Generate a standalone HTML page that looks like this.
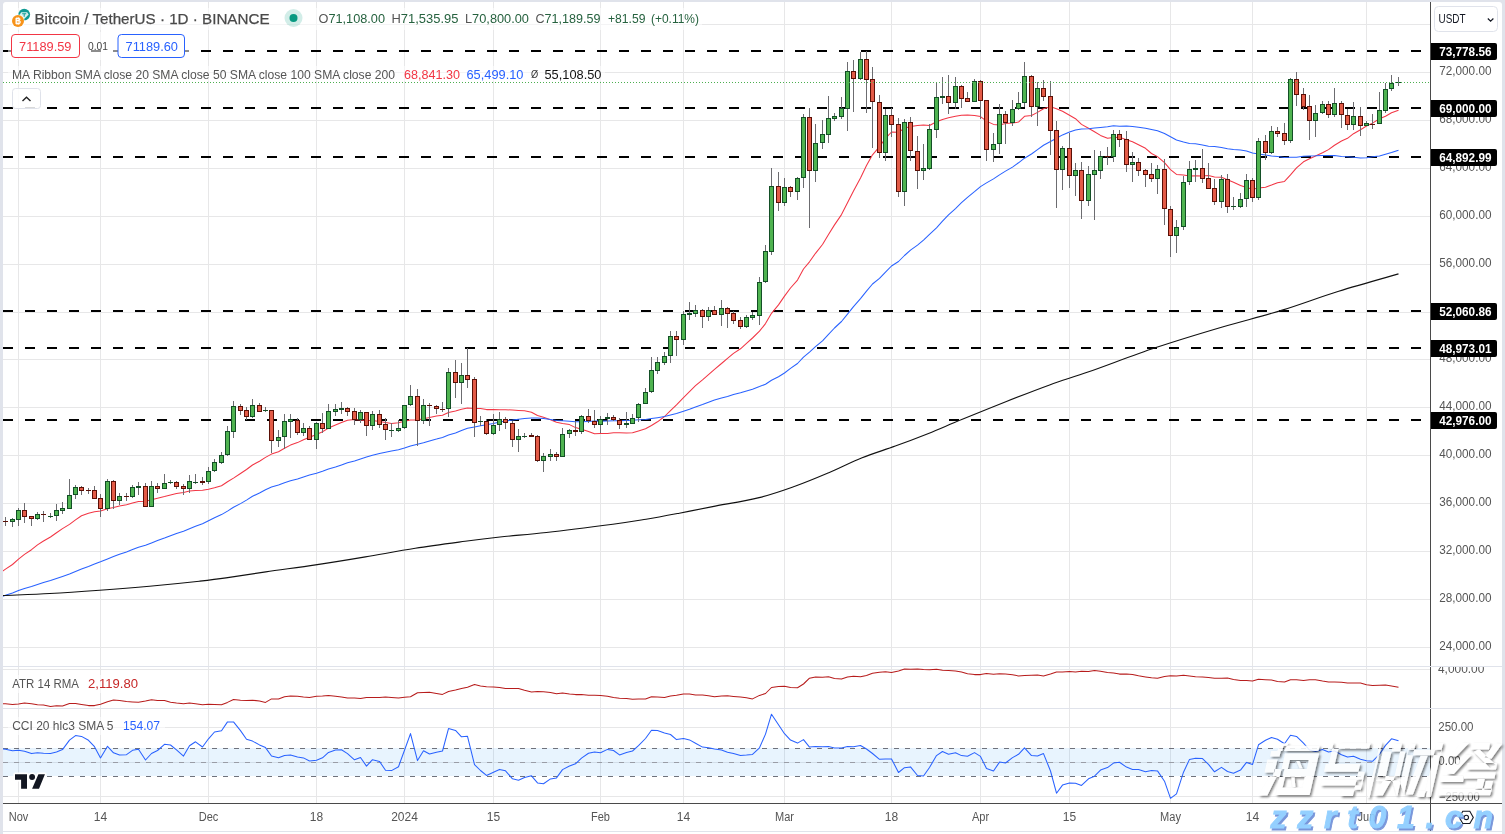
<!DOCTYPE html><html><head><meta charset="utf-8"><style>html,body{margin:0;padding:0;background:#e0e3eb;}body{width:1505px;height:834px;position:relative;overflow:hidden}</style></head><body><svg width="1505" height="834" viewBox="0 0 1505 834" font-family="Liberation Sans, sans-serif" style="position:absolute;left:0;top:0;will-change:transform">
<rect x="0" y="0" width="1505" height="834" fill="#e0e3eb" />
<path d="M3 834 V5 a3 3 0 0 1 3 -3 H1499 a3 3 0 0 1 3 3 V834 z" fill="#ffffff"/>
<g shape-rendering="crispEdges">
<rect x="18" y="2" width="1" height="801" fill="#e7e7e8" />
<rect x="100" y="2" width="1" height="801" fill="#e7e7e8" />
<rect x="208" y="2" width="1" height="801" fill="#e7e7e8" />
<rect x="316" y="2" width="1" height="801" fill="#e7e7e8" />
<rect x="404" y="2" width="1" height="801" fill="#e7e7e8" />
<rect x="493" y="2" width="1" height="801" fill="#e7e7e8" />
<rect x="600" y="2" width="1" height="801" fill="#e7e7e8" />
<rect x="683" y="2" width="1" height="801" fill="#e7e7e8" />
<rect x="784" y="2" width="1" height="801" fill="#e7e7e8" />
<rect x="891" y="2" width="1" height="801" fill="#e7e7e8" />
<rect x="980" y="2" width="1" height="801" fill="#e7e7e8" />
<rect x="1069" y="2" width="1" height="801" fill="#e7e7e8" />
<rect x="1170" y="2" width="1" height="801" fill="#e7e7e8" />
<rect x="1252" y="2" width="1" height="801" fill="#e7e7e8" />
<rect x="1366" y="2" width="1" height="801" fill="#e7e7e8" />
<rect x="3" y="647" width="1427" height="1" fill="#e7e7e8" />
<rect x="3" y="599" width="1427" height="1" fill="#e7e7e8" />
<rect x="3" y="551" width="1427" height="1" fill="#e7e7e8" />
<rect x="3" y="503" width="1427" height="1" fill="#e7e7e8" />
<rect x="3" y="455" width="1427" height="1" fill="#e7e7e8" />
<rect x="3" y="407" width="1427" height="1" fill="#e7e7e8" />
<rect x="3" y="359" width="1427" height="1" fill="#e7e7e8" />
<rect x="3" y="312" width="1427" height="1" fill="#e7e7e8" />
<rect x="3" y="264" width="1427" height="1" fill="#e7e7e8" />
<rect x="3" y="216" width="1427" height="1" fill="#e7e7e8" />
<rect x="3" y="168" width="1427" height="1" fill="#e7e7e8" />
<rect x="3" y="120" width="1427" height="1" fill="#e7e7e8" />
<rect x="3" y="72" width="1427" height="1" fill="#e7e7e8" />
<rect x="3" y="24" width="1427" height="1" fill="#e7e7e8" />
<rect x="3" y="669" width="1427" height="1" fill="#e7e7e8" />
<rect x="3" y="727" width="1427" height="1" fill="#e7e7e8" />
<rect x="3" y="796" width="1427" height="1" fill="#e7e7e8" />
</g>
<g shape-rendering="crispEdges">
<rect x="3" y="762" width="1427" height="1" fill="#e7e7e8" />
<rect x="3" y="748" width="1427" height="28" fill="#2196f3" opacity="0.1"/>
</g>
<line x1="3" y1="748.5" x2="1430" y2="748.5" stroke="#6f727c" stroke-width="1" stroke-dasharray="5 6" shape-rendering="crispEdges"/>
<line x1="3" y1="762.5" x2="1430" y2="762.5" stroke="#9a9da6" stroke-width="1" stroke-dasharray="5 6" shape-rendering="crispEdges"/>
<line x1="3" y1="776.5" x2="1430" y2="776.5" stroke="#6f727c" stroke-width="1" stroke-dasharray="5 6" shape-rendering="crispEdges"/>
<line x1="3" y1="51" x2="1430" y2="51" stroke="#000" stroke-width="2.2" stroke-dasharray="10 12"/>
<line x1="3" y1="108" x2="1430" y2="108" stroke="#000" stroke-width="2.2" stroke-dasharray="10 12"/>
<line x1="3" y1="157" x2="1430" y2="157" stroke="#000" stroke-width="2.2" stroke-dasharray="10 12"/>
<line x1="3" y1="311" x2="1430" y2="311" stroke="#000" stroke-width="2.2" stroke-dasharray="10 12"/>
<line x1="3" y1="348" x2="1430" y2="348" stroke="#000" stroke-width="2.2" stroke-dasharray="10 12"/>
<line x1="3" y1="420" x2="1430" y2="420" stroke="#000" stroke-width="2.2" stroke-dasharray="10 12"/>
<clipPath id="plot"><rect x="3" y="2" width="1427" height="801"/></clipPath>
<polyline points="-0.5,573.4 5.5,569.1 12.5,564.5 18.5,559.2 24.5,554.4 31.5,549.7 37.5,544.9 43.5,541.0 50.5,537.0 56.5,532.7 62.5,528.6 69.5,524.4 75.5,519.9 81.5,515.7 88.5,513.2 94.5,511.7 100.5,511.1 107.5,508.8 113.5,507.5 119.5,506.0 126.5,504.7 132.5,503.0 138.5,501.4 145.5,501.2 151.5,499.7 157.5,498.2 164.5,496.6 170.5,495.0 176.5,493.6 183.5,492.5 189.5,491.1 195.5,490.4 202.5,490.2 208.5,489.2 214.5,487.8 221.5,485.7 227.5,481.8 233.5,478.1 240.5,473.5 246.5,469.5 252.5,465.0 259.5,461.2 265.5,457.4 271.5,454.1 278.5,451.7 284.5,448.3 290.5,445.1 297.5,442.6 303.5,439.7 309.5,437.3 316.5,434.4 322.5,431.7 328.5,428.1 335.5,425.0 341.5,422.4 347.5,420.2 354.5,419.6 360.5,419.9 366.5,420.6 372.5,420.5 379.5,421.5 385.5,422.4 391.5,423.4 398.5,422.8 404.5,421.2 410.5,420.0 417.5,420.1 423.5,418.7 429.5,417.6 436.5,416.0 442.5,415.3 448.5,412.5 455.5,411.0 461.5,409.3 467.5,407.9 474.5,408.4 480.5,408.5 486.5,409.6 493.5,409.6 499.5,409.8 505.5,409.7 512.5,410.1 518.5,410.4 524.5,410.8 531.5,412.3 537.5,415.5 543.5,417.3 550.5,419.7 556.5,422.3 562.5,423.5 569.5,424.6 575.5,427.6 581.5,429.3 588.5,431.6 594.5,433.8 600.5,433.6 607.5,433.4 613.5,432.7 619.5,432.7 626.5,432.9 632.5,432.7 638.5,430.9 645.5,428.7 651.5,425.5 657.5,421.8 664.5,416.5 670.5,410.6 676.5,404.8 683.5,397.7 689.5,391.7 695.5,385.7 702.5,379.9 708.5,374.6 714.5,369.3 721.5,363.5 727.5,358.3 733.5,353.4 740.5,348.8 746.5,343.4 752.5,338.0 759.5,331.2 765.5,323.6 771.5,313.3 778.5,304.9 784.5,296.1 790.5,288.0 797.5,280.1 803.5,269.0 809.5,261.8 815.5,253.3 822.5,244.5 828.5,234.6 834.5,224.9 841.5,214.6 847.5,202.7 853.5,191.0 860.5,177.9 866.5,165.6 872.5,154.8 879.5,146.7 885.5,138.3 891.5,132.0 898.5,132.3 904.5,128.3 910.5,126.5 917.5,125.4 923.5,124.9 929.5,125.5 936.5,121.8 942.5,119.4 948.5,117.8 955.5,116.2 961.5,115.3 967.5,115.0 974.5,115.5 980.5,116.6 986.5,121.1 993.5,124.4 999.5,125.0 1005.5,123.5 1012.5,123.1 1018.5,122.1 1024.5,116.3 1031.5,115.5 1037.5,112.4 1043.5,108.7 1050.5,106.8 1056.5,108.8 1062.5,111.3 1069.5,115.3 1075.5,118.7 1081.5,124.4 1088.5,128.2 1094.5,131.7 1100.5,135.4 1107.5,138.2 1113.5,137.4 1119.5,137.2 1126.5,139.7 1132.5,141.7 1138.5,144.8 1145.5,148.3 1151.5,153.5 1157.5,156.6 1164.5,162.6 1170.5,169.6 1176.5,174.4 1183.5,175.0 1189.5,176.0 1195.5,175.7 1202.5,176.1 1208.5,175.5 1214.5,176.9 1221.5,177.3 1227.5,179.8 1233.5,182.3 1240.5,185.5 1246.5,187.5 1252.5,189.2 1258.5,188.1 1265.5,187.2 1271.5,185.1 1277.5,182.8 1284.5,181.4 1290.5,174.9 1296.5,167.9 1303.5,161.8 1309.5,158.8 1315.5,156.0 1322.5,152.8 1328.5,149.6 1334.5,145.3 1341.5,141.0 1347.5,138.3 1353.5,133.7 1360.5,129.7 1366.5,126.0 1372.5,123.1 1379.5,118.8 1385.5,116.2 1391.5,112.7 1398.5,110.2" fill="none" stroke="#f23645" stroke-width="1.05" stroke-linejoin="round" clip-path="url(#plot)"/>
<polyline points="-0.5,597.3 5.5,595.2 12.5,592.9 18.5,590.6 24.5,588.5 31.5,586.6 37.5,584.5 43.5,582.5 50.5,580.4 56.5,578.4 62.5,576.4 69.5,574.1 75.5,571.5 81.5,569.0 88.5,566.4 94.5,564.0 100.5,561.8 107.5,559.0 113.5,556.6 119.5,554.3 126.5,552.0 132.5,549.5 138.5,547.2 145.5,545.3 151.5,542.9 157.5,540.6 164.5,538.1 170.5,535.8 176.5,533.5 183.5,531.3 189.5,528.8 195.5,526.3 202.5,523.7 208.5,520.8 214.5,517.8 221.5,514.6 227.5,511.1 233.5,507.3 240.5,503.6 246.5,500.1 252.5,496.3 259.5,493.0 265.5,489.7 271.5,487.0 278.5,484.9 284.5,482.8 290.5,480.7 297.5,478.9 303.5,476.9 309.5,475.1 316.5,473.2 322.5,471.3 328.5,469.1 335.5,467.1 341.5,465.0 347.5,462.8 354.5,460.9 360.5,458.9 366.5,457.1 372.5,455.2 379.5,453.5 385.5,452.2 391.5,451.1 398.5,449.8 404.5,448.1 410.5,446.1 417.5,444.3 423.5,442.8 429.5,440.9 436.5,439.1 442.5,437.4 448.5,435.1 455.5,433.0 461.5,430.4 467.5,428.3 474.5,426.9 480.5,425.7 486.5,424.7 493.5,423.5 499.5,422.1 505.5,420.9 512.5,420.1 518.5,419.2 524.5,418.4 531.5,417.9 537.5,418.0 543.5,418.5 550.5,419.5 556.5,420.4 562.5,420.7 569.5,421.3 575.5,421.7 581.5,421.8 588.5,421.4 594.5,421.1 600.5,421.1 607.5,421.0 613.5,420.8 619.5,420.7 626.5,420.4 632.5,420.3 638.5,419.8 645.5,419.4 651.5,418.6 657.5,417.7 664.5,416.6 670.5,414.9 676.5,413.5 683.5,411.2 689.5,409.2 695.5,406.9 702.5,404.6 708.5,402.2 714.5,400.0 721.5,398.0 727.5,396.4 733.5,394.4 740.5,392.8 746.5,391.0 752.5,389.2 759.5,386.6 765.5,384.2 771.5,380.3 778.5,376.8 784.5,373.0 790.5,368.4 797.5,363.5 803.5,357.2 809.5,352.1 815.5,346.6 822.5,340.8 828.5,334.4 834.5,328.0 841.5,321.5 847.5,314.2 853.5,306.6 860.5,298.6 866.5,291.1 872.5,284.0 879.5,278.4 885.5,272.1 891.5,266.0 898.5,261.5 904.5,255.5 910.5,250.1 917.5,245.1 923.5,240.1 929.5,234.3 936.5,227.8 942.5,221.2 948.5,214.9 955.5,208.6 961.5,202.7 967.5,197.3 974.5,191.7 980.5,186.6 986.5,182.9 993.5,178.9 999.5,174.9 1005.5,171.1 1012.5,167.1 1018.5,162.8 1024.5,158.2 1031.5,154.0 1037.5,149.6 1043.5,145.3 1050.5,141.5 1056.5,138.3 1062.5,134.9 1069.5,132.1 1075.5,129.9 1081.5,128.9 1088.5,128.7 1094.5,128.0 1100.5,127.4 1107.5,126.7 1113.5,125.8 1119.5,126.2 1126.5,126.1 1132.5,126.5 1138.5,127.2 1145.5,128.3 1151.5,129.6 1157.5,130.8 1164.5,133.5 1170.5,136.7 1176.5,140.0 1183.5,142.1 1189.5,143.4 1195.5,143.7 1202.5,145.0 1208.5,146.3 1214.5,146.5 1221.5,147.6 1227.5,148.7 1233.5,149.4 1240.5,150.0 1246.5,151.1 1252.5,153.1 1258.5,154.0 1265.5,155.0 1271.5,155.9 1277.5,156.6 1284.5,157.4 1290.5,157.3 1296.5,157.2 1303.5,156.3 1309.5,155.9 1315.5,155.8 1322.5,155.5 1328.5,155.6 1334.5,155.6 1341.5,156.4 1347.5,156.7 1353.5,157.3 1360.5,157.9 1366.5,157.7 1372.5,156.8 1379.5,156.0 1385.5,154.3 1391.5,152.6 1398.5,150.2" fill="none" stroke="#2962ff" stroke-width="1.05" stroke-linejoin="round" clip-path="url(#plot)"/>
<path d="M2.5 595.6 C2.6 595.6 -4.6 595.9 3.3 595.5 C11.2 595.1 33.7 594.4 49.8 593.5 C65.9 592.6 83.1 591.4 99.7 590.2 C116.3 589.0 132.9 587.7 149.5 586.2 C166.1 584.7 186.6 582.6 199.3 581.2 C212.1 579.8 214.9 579.5 226.0 577.9 C237.1 576.3 250.9 574.1 265.8 571.9 C280.7 569.7 299.0 567.4 315.6 564.9 C332.2 562.4 348.8 559.7 365.4 556.9 C382.0 554.1 398.7 550.9 415.3 548.3 C431.9 545.7 451.0 543.2 465.1 541.3 C479.2 539.4 486.4 538.5 500.0 537.0 C513.5 535.5 527.6 534.6 546.4 532.5 C565.2 530.4 596.3 526.4 612.9 524.2 C629.5 522.0 635.0 521.0 646.1 519.2 C657.2 517.4 668.2 515.3 679.3 513.2 C690.4 511.1 699.3 509.2 712.6 506.6 C725.9 504.0 745.3 501.0 759.1 497.6 C772.9 494.2 784.0 490.1 795.6 486.0 C807.2 481.9 817.7 477.4 828.8 472.7 C839.9 468.0 851.0 462.1 862.1 457.7 C873.2 453.3 884.2 450.1 895.3 446.1 C906.4 442.1 917.4 437.9 928.5 433.5 C939.6 429.1 948.7 424.8 961.7 419.5 C974.7 414.2 991.8 407.3 1006.4 401.5 C1021.0 395.7 1035.8 389.9 1049.6 384.9 C1063.4 379.9 1071.8 377.8 1089.5 371.6 C1107.2 365.4 1133.8 355.0 1155.9 347.6 C1178.1 340.2 1201.4 333.2 1222.4 327.0 C1243.5 320.8 1262.8 316.1 1282.2 310.1 C1301.6 304.1 1319.3 297.2 1338.7 291.2 C1358.1 285.2 1388.5 276.8 1398.5 273.9" fill="none" stroke="#111" stroke-width="1.1" clip-path="url(#plot)"/>
<g shape-rendering="crispEdges">
<rect x="5" y="517" width="1" height="9" fill="#6c6c70" />
<rect x="3" y="521" width="5" height="1" fill="#5a0f06" />
<rect x="12" y="518" width="1" height="9" fill="#6c6c70" />
<rect x="10" y="519" width="5" height="3" fill="#134f26" />
<rect x="11" y="520" width="3" height="1" fill="#4fb350" />
<rect x="18" y="508" width="1" height="18" fill="#6c6c70" />
<rect x="16" y="510" width="5" height="10" fill="#134f26" />
<rect x="17" y="511" width="3" height="8" fill="#4fb350" />
<rect x="24" y="503" width="1" height="20" fill="#6c6c70" />
<rect x="22" y="510" width="5" height="7" fill="#5a0f06" />
<rect x="23" y="511" width="3" height="5" fill="#e35b47" />
<rect x="31" y="516" width="1" height="10" fill="#6c6c70" />
<rect x="29" y="516" width="5" height="3" fill="#5a0f06" />
<rect x="30" y="517" width="3" height="1" fill="#e35b47" />
<rect x="37" y="512" width="1" height="8" fill="#6c6c70" />
<rect x="35" y="514" width="5" height="5" fill="#134f26" />
<rect x="36" y="515" width="3" height="3" fill="#4fb350" />
<rect x="43" y="511" width="1" height="11" fill="#6c6c70" />
<rect x="41" y="514" width="5" height="1" fill="#5a0f06" />
<rect x="50" y="513" width="1" height="5" fill="#6c6c70" />
<rect x="48" y="516" width="5" height="1" fill="#134f26" />
<rect x="56" y="504" width="1" height="17" fill="#6c6c70" />
<rect x="54" y="510" width="5" height="6" fill="#134f26" />
<rect x="55" y="511" width="3" height="4" fill="#4fb350" />
<rect x="62" y="502" width="1" height="12" fill="#6c6c70" />
<rect x="60" y="508" width="5" height="3" fill="#134f26" />
<rect x="61" y="509" width="3" height="1" fill="#4fb350" />
<rect x="69" y="479" width="1" height="30" fill="#6c6c70" />
<rect x="67" y="495" width="5" height="14" fill="#134f26" />
<rect x="68" y="496" width="3" height="12" fill="#4fb350" />
<rect x="75" y="485" width="1" height="14" fill="#6c6c70" />
<rect x="73" y="487" width="5" height="8" fill="#134f26" />
<rect x="74" y="488" width="3" height="6" fill="#4fb350" />
<rect x="81" y="486" width="1" height="9" fill="#6c6c70" />
<rect x="79" y="487" width="5" height="4" fill="#5a0f06" />
<rect x="80" y="488" width="3" height="2" fill="#e35b47" />
<rect x="88" y="488" width="1" height="6" fill="#6c6c70" />
<rect x="86" y="490" width="5" height="1" fill="#5a0f06" />
<rect x="94" y="486" width="1" height="13" fill="#6c6c70" />
<rect x="92" y="490" width="5" height="9" fill="#5a0f06" />
<rect x="93" y="491" width="3" height="7" fill="#e35b47" />
<rect x="100" y="494" width="1" height="23" fill="#6c6c70" />
<rect x="98" y="498" width="5" height="11" fill="#5a0f06" />
<rect x="99" y="499" width="3" height="9" fill="#e35b47" />
<rect x="107" y="479" width="1" height="32" fill="#6c6c70" />
<rect x="105" y="481" width="5" height="28" fill="#134f26" />
<rect x="106" y="482" width="3" height="26" fill="#4fb350" />
<rect x="113" y="480" width="1" height="29" fill="#6c6c70" />
<rect x="111" y="481" width="5" height="20" fill="#5a0f06" />
<rect x="112" y="482" width="3" height="18" fill="#e35b47" />
<rect x="119" y="493" width="1" height="12" fill="#6c6c70" />
<rect x="117" y="496" width="5" height="5" fill="#134f26" />
<rect x="118" y="497" width="3" height="3" fill="#4fb350" />
<rect x="126" y="493" width="1" height="8" fill="#6c6c70" />
<rect x="124" y="496" width="5" height="1" fill="#5a0f06" />
<rect x="132" y="485" width="1" height="13" fill="#6c6c70" />
<rect x="130" y="487" width="5" height="10" fill="#134f26" />
<rect x="131" y="488" width="3" height="8" fill="#4fb350" />
<rect x="138" y="482" width="1" height="13" fill="#6c6c70" />
<rect x="136" y="486" width="5" height="2" fill="#134f26" />
<rect x="145" y="483" width="1" height="24" fill="#6c6c70" />
<rect x="143" y="486" width="5" height="21" fill="#5a0f06" />
<rect x="144" y="487" width="3" height="19" fill="#e35b47" />
<rect x="151" y="481" width="1" height="26" fill="#6c6c70" />
<rect x="149" y="486" width="5" height="21" fill="#134f26" />
<rect x="150" y="487" width="3" height="19" fill="#4fb350" />
<rect x="157" y="483" width="1" height="10" fill="#6c6c70" />
<rect x="155" y="486" width="5" height="3" fill="#5a0f06" />
<rect x="156" y="487" width="3" height="1" fill="#e35b47" />
<rect x="164" y="474" width="1" height="15" fill="#6c6c70" />
<rect x="162" y="483" width="5" height="6" fill="#134f26" />
<rect x="163" y="484" width="3" height="4" fill="#4fb350" />
<rect x="170" y="480" width="1" height="4" fill="#6c6c70" />
<rect x="168" y="482" width="5" height="1" fill="#134f26" />
<rect x="176" y="481" width="1" height="8" fill="#6c6c70" />
<rect x="174" y="482" width="5" height="5" fill="#5a0f06" />
<rect x="175" y="483" width="3" height="3" fill="#e35b47" />
<rect x="183" y="484" width="1" height="11" fill="#6c6c70" />
<rect x="181" y="486" width="5" height="3" fill="#5a0f06" />
<rect x="182" y="487" width="3" height="1" fill="#e35b47" />
<rect x="189" y="475" width="1" height="18" fill="#6c6c70" />
<rect x="187" y="481" width="5" height="8" fill="#134f26" />
<rect x="188" y="482" width="3" height="6" fill="#4fb350" />
<rect x="195" y="474" width="1" height="10" fill="#6c6c70" />
<rect x="193" y="482" width="5" height="1" fill="#134f26" />
<rect x="202" y="477" width="1" height="8" fill="#6c6c70" />
<rect x="200" y="481" width="5" height="2" fill="#5a0f06" />
<rect x="208" y="467" width="1" height="17" fill="#6c6c70" />
<rect x="206" y="471" width="5" height="11" fill="#134f26" />
<rect x="207" y="472" width="3" height="9" fill="#4fb350" />
<rect x="214" y="459" width="1" height="13" fill="#6c6c70" />
<rect x="212" y="462" width="5" height="9" fill="#134f26" />
<rect x="213" y="463" width="3" height="7" fill="#4fb350" />
<rect x="221" y="452" width="1" height="12" fill="#6c6c70" />
<rect x="219" y="455" width="5" height="8" fill="#134f26" />
<rect x="220" y="456" width="3" height="6" fill="#4fb350" />
<rect x="227" y="426" width="1" height="30" fill="#6c6c70" />
<rect x="225" y="431" width="5" height="24" fill="#134f26" />
<rect x="226" y="432" width="3" height="22" fill="#4fb350" />
<rect x="233" y="401" width="1" height="37" fill="#6c6c70" />
<rect x="231" y="406" width="5" height="26" fill="#134f26" />
<rect x="232" y="407" width="3" height="24" fill="#4fb350" />
<rect x="240" y="404" width="1" height="11" fill="#6c6c70" />
<rect x="238" y="406" width="5" height="5" fill="#5a0f06" />
<rect x="239" y="407" width="3" height="3" fill="#e35b47" />
<rect x="246" y="407" width="1" height="13" fill="#6c6c70" />
<rect x="244" y="410" width="5" height="7" fill="#5a0f06" />
<rect x="245" y="411" width="3" height="5" fill="#e35b47" />
<rect x="252" y="399" width="1" height="19" fill="#6c6c70" />
<rect x="250" y="405" width="5" height="12" fill="#134f26" />
<rect x="251" y="406" width="3" height="10" fill="#4fb350" />
<rect x="259" y="403" width="1" height="9" fill="#6c6c70" />
<rect x="257" y="405" width="5" height="7" fill="#5a0f06" />
<rect x="258" y="406" width="3" height="5" fill="#e35b47" />
<rect x="265" y="407" width="1" height="5" fill="#6c6c70" />
<rect x="263" y="410" width="5" height="1" fill="#134f26" />
<rect x="271" y="410" width="1" height="43" fill="#6c6c70" />
<rect x="269" y="410" width="5" height="31" fill="#5a0f06" />
<rect x="270" y="411" width="3" height="29" fill="#e35b47" />
<rect x="278" y="430" width="1" height="17" fill="#6c6c70" />
<rect x="276" y="437" width="5" height="4" fill="#134f26" />
<rect x="277" y="438" width="3" height="2" fill="#4fb350" />
<rect x="284" y="414" width="1" height="35" fill="#6c6c70" />
<rect x="282" y="421" width="5" height="16" fill="#134f26" />
<rect x="283" y="422" width="3" height="14" fill="#4fb350" />
<rect x="290" y="414" width="1" height="24" fill="#6c6c70" />
<rect x="288" y="419" width="5" height="3" fill="#134f26" />
<rect x="289" y="420" width="3" height="1" fill="#4fb350" />
<rect x="297" y="418" width="1" height="17" fill="#6c6c70" />
<rect x="295" y="420" width="5" height="13" fill="#5a0f06" />
<rect x="296" y="421" width="3" height="11" fill="#e35b47" />
<rect x="303" y="423" width="1" height="13" fill="#6c6c70" />
<rect x="301" y="428" width="5" height="5" fill="#134f26" />
<rect x="302" y="429" width="3" height="3" fill="#4fb350" />
<rect x="309" y="426" width="1" height="14" fill="#6c6c70" />
<rect x="307" y="428" width="5" height="12" fill="#5a0f06" />
<rect x="308" y="429" width="3" height="10" fill="#e35b47" />
<rect x="316" y="422" width="1" height="27" fill="#6c6c70" />
<rect x="314" y="423" width="5" height="17" fill="#134f26" />
<rect x="315" y="424" width="3" height="15" fill="#4fb350" />
<rect x="322" y="413" width="1" height="20" fill="#6c6c70" />
<rect x="320" y="423" width="5" height="6" fill="#5a0f06" />
<rect x="321" y="424" width="3" height="4" fill="#e35b47" />
<rect x="328" y="404" width="1" height="25" fill="#6c6c70" />
<rect x="326" y="411" width="5" height="18" fill="#134f26" />
<rect x="327" y="412" width="3" height="16" fill="#4fb350" />
<rect x="335" y="404" width="1" height="12" fill="#6c6c70" />
<rect x="333" y="409" width="5" height="3" fill="#134f26" />
<rect x="334" y="410" width="3" height="1" fill="#4fb350" />
<rect x="341" y="402" width="1" height="12" fill="#6c6c70" />
<rect x="339" y="408" width="5" height="2" fill="#134f26" />
<rect x="347" y="407" width="1" height="9" fill="#6c6c70" />
<rect x="345" y="408" width="5" height="4" fill="#5a0f06" />
<rect x="346" y="409" width="3" height="2" fill="#e35b47" />
<rect x="354" y="408" width="1" height="17" fill="#6c6c70" />
<rect x="352" y="411" width="5" height="9" fill="#5a0f06" />
<rect x="353" y="412" width="3" height="7" fill="#e35b47" />
<rect x="360" y="410" width="1" height="13" fill="#6c6c70" />
<rect x="358" y="412" width="5" height="8" fill="#134f26" />
<rect x="359" y="413" width="3" height="6" fill="#4fb350" />
<rect x="366" y="412" width="1" height="24" fill="#6c6c70" />
<rect x="364" y="412" width="5" height="14" fill="#5a0f06" />
<rect x="365" y="413" width="3" height="12" fill="#e35b47" />
<rect x="372" y="411" width="1" height="19" fill="#6c6c70" />
<rect x="370" y="414" width="5" height="12" fill="#134f26" />
<rect x="371" y="415" width="3" height="10" fill="#4fb350" />
<rect x="379" y="410" width="1" height="18" fill="#6c6c70" />
<rect x="377" y="414" width="5" height="11" fill="#5a0f06" />
<rect x="378" y="415" width="3" height="9" fill="#e35b47" />
<rect x="385" y="418" width="1" height="22" fill="#6c6c70" />
<rect x="383" y="424" width="5" height="6" fill="#5a0f06" />
<rect x="384" y="425" width="3" height="4" fill="#e35b47" />
<rect x="391" y="423" width="1" height="14" fill="#6c6c70" />
<rect x="389" y="430" width="5" height="1" fill="#134f26" />
<rect x="398" y="420" width="1" height="12" fill="#6c6c70" />
<rect x="396" y="428" width="5" height="3" fill="#134f26" />
<rect x="397" y="429" width="3" height="1" fill="#4fb350" />
<rect x="404" y="405" width="1" height="24" fill="#6c6c70" />
<rect x="402" y="405" width="5" height="23" fill="#134f26" />
<rect x="403" y="406" width="3" height="21" fill="#4fb350" />
<rect x="410" y="385" width="1" height="21" fill="#6c6c70" />
<rect x="408" y="396" width="5" height="9" fill="#134f26" />
<rect x="409" y="397" width="3" height="7" fill="#4fb350" />
<rect x="417" y="389" width="1" height="57" fill="#6c6c70" />
<rect x="415" y="396" width="5" height="25" fill="#5a0f06" />
<rect x="416" y="397" width="3" height="23" fill="#e35b47" />
<rect x="423" y="399" width="1" height="25" fill="#6c6c70" />
<rect x="421" y="405" width="5" height="16" fill="#134f26" />
<rect x="422" y="406" width="3" height="14" fill="#4fb350" />
<rect x="429" y="403" width="1" height="23" fill="#6c6c70" />
<rect x="427" y="405" width="5" height="1" fill="#5a0f06" />
<rect x="436" y="405" width="1" height="9" fill="#6c6c70" />
<rect x="434" y="406" width="5" height="3" fill="#5a0f06" />
<rect x="435" y="407" width="3" height="1" fill="#e35b47" />
<rect x="442" y="402" width="1" height="10" fill="#6c6c70" />
<rect x="440" y="409" width="5" height="1" fill="#5a0f06" />
<rect x="448" y="368" width="1" height="49" fill="#6c6c70" />
<rect x="446" y="372" width="5" height="37" fill="#134f26" />
<rect x="447" y="373" width="3" height="35" fill="#4fb350" />
<rect x="455" y="360" width="1" height="38" fill="#6c6c70" />
<rect x="453" y="372" width="5" height="11" fill="#5a0f06" />
<rect x="454" y="373" width="3" height="9" fill="#e35b47" />
<rect x="461" y="363" width="1" height="41" fill="#6c6c70" />
<rect x="459" y="375" width="5" height="8" fill="#134f26" />
<rect x="460" y="376" width="3" height="6" fill="#4fb350" />
<rect x="467" y="348" width="1" height="40" fill="#6c6c70" />
<rect x="465" y="375" width="5" height="5" fill="#5a0f06" />
<rect x="466" y="376" width="3" height="3" fill="#e35b47" />
<rect x="474" y="377" width="1" height="60" fill="#6c6c70" />
<rect x="472" y="379" width="5" height="44" fill="#5a0f06" />
<rect x="473" y="380" width="3" height="42" fill="#e35b47" />
<rect x="480" y="416" width="1" height="10" fill="#6c6c70" />
<rect x="478" y="421" width="5" height="1" fill="#134f26" />
<rect x="486" y="419" width="1" height="16" fill="#6c6c70" />
<rect x="484" y="421" width="5" height="13" fill="#5a0f06" />
<rect x="485" y="422" width="3" height="11" fill="#e35b47" />
<rect x="493" y="414" width="1" height="21" fill="#6c6c70" />
<rect x="491" y="425" width="5" height="9" fill="#134f26" />
<rect x="492" y="426" width="3" height="7" fill="#4fb350" />
<rect x="499" y="412" width="1" height="19" fill="#6c6c70" />
<rect x="497" y="419" width="5" height="6" fill="#134f26" />
<rect x="498" y="420" width="3" height="4" fill="#4fb350" />
<rect x="505" y="417" width="1" height="12" fill="#6c6c70" />
<rect x="503" y="419" width="5" height="4" fill="#5a0f06" />
<rect x="504" y="420" width="3" height="2" fill="#e35b47" />
<rect x="512" y="421" width="1" height="26" fill="#6c6c70" />
<rect x="510" y="423" width="5" height="17" fill="#5a0f06" />
<rect x="511" y="424" width="3" height="15" fill="#e35b47" />
<rect x="518" y="429" width="1" height="23" fill="#6c6c70" />
<rect x="516" y="436" width="5" height="4" fill="#134f26" />
<rect x="517" y="437" width="3" height="2" fill="#4fb350" />
<rect x="524" y="433" width="1" height="5" fill="#6c6c70" />
<rect x="522" y="436" width="5" height="1" fill="#134f26" />
<rect x="531" y="433" width="1" height="4" fill="#6c6c70" />
<rect x="529" y="435" width="5" height="2" fill="#5a0f06" />
<rect x="537" y="435" width="1" height="27" fill="#6c6c70" />
<rect x="535" y="436" width="5" height="25" fill="#5a0f06" />
<rect x="536" y="437" width="3" height="23" fill="#e35b47" />
<rect x="543" y="453" width="1" height="19" fill="#6c6c70" />
<rect x="541" y="456" width="5" height="5" fill="#134f26" />
<rect x="542" y="457" width="3" height="3" fill="#4fb350" />
<rect x="550" y="449" width="1" height="12" fill="#6c6c70" />
<rect x="548" y="454" width="5" height="3" fill="#134f26" />
<rect x="549" y="455" width="3" height="1" fill="#4fb350" />
<rect x="556" y="452" width="1" height="9" fill="#6c6c70" />
<rect x="554" y="454" width="5" height="3" fill="#5a0f06" />
<rect x="555" y="455" width="3" height="1" fill="#e35b47" />
<rect x="562" y="428" width="1" height="29" fill="#6c6c70" />
<rect x="560" y="434" width="5" height="23" fill="#134f26" />
<rect x="561" y="435" width="3" height="21" fill="#4fb350" />
<rect x="569" y="429" width="1" height="9" fill="#6c6c70" />
<rect x="567" y="430" width="5" height="4" fill="#134f26" />
<rect x="568" y="431" width="3" height="2" fill="#4fb350" />
<rect x="575" y="421" width="1" height="15" fill="#6c6c70" />
<rect x="573" y="430" width="5" height="2" fill="#5a0f06" />
<rect x="581" y="415" width="1" height="19" fill="#6c6c70" />
<rect x="579" y="416" width="5" height="16" fill="#134f26" />
<rect x="580" y="417" width="3" height="14" fill="#4fb350" />
<rect x="588" y="409" width="1" height="14" fill="#6c6c70" />
<rect x="586" y="416" width="5" height="5" fill="#5a0f06" />
<rect x="587" y="417" width="3" height="3" fill="#e35b47" />
<rect x="594" y="410" width="1" height="18" fill="#6c6c70" />
<rect x="592" y="421" width="5" height="4" fill="#5a0f06" />
<rect x="593" y="422" width="3" height="2" fill="#e35b47" />
<rect x="600" y="416" width="1" height="17" fill="#6c6c70" />
<rect x="598" y="419" width="5" height="6" fill="#134f26" />
<rect x="599" y="420" width="3" height="4" fill="#4fb350" />
<rect x="607" y="413" width="1" height="12" fill="#6c6c70" />
<rect x="605" y="417" width="5" height="2" fill="#134f26" />
<rect x="613" y="415" width="1" height="6" fill="#6c6c70" />
<rect x="611" y="417" width="5" height="3" fill="#5a0f06" />
<rect x="612" y="418" width="3" height="1" fill="#e35b47" />
<rect x="619" y="418" width="1" height="11" fill="#6c6c70" />
<rect x="617" y="420" width="5" height="5" fill="#5a0f06" />
<rect x="618" y="421" width="3" height="3" fill="#e35b47" />
<rect x="626" y="412" width="1" height="16" fill="#6c6c70" />
<rect x="624" y="423" width="5" height="2" fill="#134f26" />
<rect x="632" y="414" width="1" height="10" fill="#6c6c70" />
<rect x="630" y="418" width="5" height="6" fill="#134f26" />
<rect x="631" y="419" width="3" height="4" fill="#4fb350" />
<rect x="638" y="403" width="1" height="19" fill="#6c6c70" />
<rect x="636" y="404" width="5" height="14" fill="#134f26" />
<rect x="637" y="405" width="3" height="12" fill="#4fb350" />
<rect x="645" y="388" width="1" height="16" fill="#6c6c70" />
<rect x="643" y="392" width="5" height="12" fill="#134f26" />
<rect x="644" y="393" width="3" height="10" fill="#4fb350" />
<rect x="651" y="357" width="1" height="36" fill="#6c6c70" />
<rect x="649" y="370" width="5" height="22" fill="#134f26" />
<rect x="650" y="371" width="3" height="20" fill="#4fb350" />
<rect x="657" y="357" width="1" height="17" fill="#6c6c70" />
<rect x="655" y="362" width="5" height="9" fill="#134f26" />
<rect x="656" y="363" width="3" height="7" fill="#4fb350" />
<rect x="664" y="352" width="1" height="13" fill="#6c6c70" />
<rect x="662" y="356" width="5" height="7" fill="#134f26" />
<rect x="663" y="357" width="3" height="5" fill="#4fb350" />
<rect x="670" y="331" width="1" height="32" fill="#6c6c70" />
<rect x="668" y="336" width="5" height="20" fill="#134f26" />
<rect x="669" y="337" width="3" height="18" fill="#4fb350" />
<rect x="676" y="331" width="1" height="25" fill="#6c6c70" />
<rect x="674" y="336" width="5" height="4" fill="#5a0f06" />
<rect x="675" y="337" width="3" height="2" fill="#e35b47" />
<rect x="683" y="311" width="1" height="34" fill="#6c6c70" />
<rect x="681" y="314" width="5" height="26" fill="#134f26" />
<rect x="682" y="315" width="3" height="24" fill="#4fb350" />
<rect x="689" y="302" width="1" height="18" fill="#6c6c70" />
<rect x="687" y="313" width="5" height="2" fill="#134f26" />
<rect x="695" y="305" width="1" height="12" fill="#6c6c70" />
<rect x="693" y="310" width="5" height="4" fill="#134f26" />
<rect x="694" y="311" width="3" height="2" fill="#4fb350" />
<rect x="702" y="309" width="1" height="19" fill="#6c6c70" />
<rect x="700" y="310" width="5" height="7" fill="#5a0f06" />
<rect x="701" y="311" width="3" height="5" fill="#e35b47" />
<rect x="708" y="307" width="1" height="14" fill="#6c6c70" />
<rect x="706" y="310" width="5" height="7" fill="#134f26" />
<rect x="707" y="311" width="3" height="5" fill="#4fb350" />
<rect x="714" y="306" width="1" height="9" fill="#6c6c70" />
<rect x="712" y="310" width="5" height="5" fill="#5a0f06" />
<rect x="713" y="311" width="3" height="3" fill="#e35b47" />
<rect x="721" y="300" width="1" height="26" fill="#6c6c70" />
<rect x="719" y="308" width="5" height="7" fill="#134f26" />
<rect x="720" y="309" width="3" height="5" fill="#4fb350" />
<rect x="727" y="307" width="1" height="21" fill="#6c6c70" />
<rect x="725" y="308" width="5" height="6" fill="#5a0f06" />
<rect x="726" y="309" width="3" height="4" fill="#e35b47" />
<rect x="733" y="311" width="1" height="13" fill="#6c6c70" />
<rect x="731" y="313" width="5" height="8" fill="#5a0f06" />
<rect x="732" y="314" width="3" height="6" fill="#e35b47" />
<rect x="740" y="317" width="1" height="12" fill="#6c6c70" />
<rect x="738" y="320" width="5" height="7" fill="#5a0f06" />
<rect x="739" y="321" width="3" height="5" fill="#e35b47" />
<rect x="746" y="315" width="1" height="13" fill="#6c6c70" />
<rect x="744" y="317" width="5" height="10" fill="#134f26" />
<rect x="745" y="318" width="3" height="8" fill="#4fb350" />
<rect x="752" y="312" width="1" height="8" fill="#6c6c70" />
<rect x="750" y="315" width="5" height="3" fill="#134f26" />
<rect x="751" y="316" width="3" height="1" fill="#4fb350" />
<rect x="759" y="277" width="1" height="48" fill="#6c6c70" />
<rect x="757" y="282" width="5" height="34" fill="#134f26" />
<rect x="758" y="283" width="3" height="32" fill="#4fb350" />
<rect x="765" y="245" width="1" height="38" fill="#6c6c70" />
<rect x="763" y="251" width="5" height="31" fill="#134f26" />
<rect x="764" y="252" width="3" height="29" fill="#4fb350" />
<rect x="771" y="168" width="1" height="87" fill="#6c6c70" />
<rect x="769" y="186" width="5" height="66" fill="#134f26" />
<rect x="770" y="187" width="3" height="64" fill="#4fb350" />
<rect x="778" y="172" width="1" height="39" fill="#6c6c70" />
<rect x="776" y="186" width="5" height="17" fill="#5a0f06" />
<rect x="777" y="187" width="3" height="15" fill="#e35b47" />
<rect x="784" y="178" width="1" height="28" fill="#6c6c70" />
<rect x="782" y="187" width="5" height="16" fill="#134f26" />
<rect x="783" y="188" width="3" height="14" fill="#4fb350" />
<rect x="790" y="186" width="1" height="11" fill="#6c6c70" />
<rect x="788" y="187" width="5" height="5" fill="#5a0f06" />
<rect x="789" y="188" width="3" height="3" fill="#e35b47" />
<rect x="797" y="177" width="1" height="23" fill="#6c6c70" />
<rect x="795" y="178" width="5" height="14" fill="#134f26" />
<rect x="796" y="179" width="3" height="12" fill="#4fb350" />
<rect x="803" y="114" width="1" height="74" fill="#6c6c70" />
<rect x="801" y="117" width="5" height="61" fill="#134f26" />
<rect x="802" y="118" width="3" height="59" fill="#4fb350" />
<rect x="809" y="108" width="1" height="120" fill="#6c6c70" />
<rect x="807" y="117" width="5" height="54" fill="#5a0f06" />
<rect x="808" y="118" width="3" height="52" fill="#e35b47" />
<rect x="815" y="124" width="1" height="58" fill="#6c6c70" />
<rect x="813" y="143" width="5" height="28" fill="#134f26" />
<rect x="814" y="144" width="3" height="26" fill="#4fb350" />
<rect x="822" y="120" width="1" height="29" fill="#6c6c70" />
<rect x="820" y="134" width="5" height="9" fill="#134f26" />
<rect x="821" y="135" width="3" height="7" fill="#4fb350" />
<rect x="828" y="96" width="1" height="47" fill="#6c6c70" />
<rect x="826" y="118" width="5" height="17" fill="#134f26" />
<rect x="827" y="119" width="3" height="15" fill="#4fb350" />
<rect x="834" y="113" width="1" height="8" fill="#6c6c70" />
<rect x="832" y="116" width="5" height="3" fill="#134f26" />
<rect x="833" y="117" width="3" height="1" fill="#4fb350" />
<rect x="841" y="97" width="1" height="22" fill="#6c6c70" />
<rect x="839" y="108" width="5" height="9" fill="#134f26" />
<rect x="840" y="109" width="3" height="7" fill="#4fb350" />
<rect x="847" y="62" width="1" height="69" fill="#6c6c70" />
<rect x="845" y="71" width="5" height="38" fill="#134f26" />
<rect x="846" y="72" width="3" height="36" fill="#4fb350" />
<rect x="853" y="60" width="1" height="52" fill="#6c6c70" />
<rect x="851" y="71" width="5" height="8" fill="#5a0f06" />
<rect x="852" y="72" width="3" height="6" fill="#e35b47" />
<rect x="860" y="52" width="1" height="28" fill="#6c6c70" />
<rect x="858" y="59" width="5" height="20" fill="#134f26" />
<rect x="859" y="60" width="3" height="18" fill="#4fb350" />
<rect x="866" y="51" width="1" height="62" fill="#6c6c70" />
<rect x="864" y="59" width="5" height="21" fill="#5a0f06" />
<rect x="865" y="60" width="3" height="19" fill="#e35b47" />
<rect x="872" y="67" width="1" height="81" fill="#6c6c70" />
<rect x="870" y="79" width="5" height="23" fill="#5a0f06" />
<rect x="871" y="80" width="3" height="21" fill="#e35b47" />
<rect x="879" y="95" width="1" height="63" fill="#6c6c70" />
<rect x="877" y="102" width="5" height="51" fill="#5a0f06" />
<rect x="878" y="103" width="3" height="49" fill="#e35b47" />
<rect x="885" y="109" width="1" height="52" fill="#6c6c70" />
<rect x="883" y="115" width="5" height="38" fill="#134f26" />
<rect x="884" y="116" width="3" height="36" fill="#4fb350" />
<rect x="891" y="108" width="1" height="29" fill="#6c6c70" />
<rect x="889" y="115" width="5" height="10" fill="#5a0f06" />
<rect x="890" y="116" width="3" height="8" fill="#e35b47" />
<rect x="898" y="118" width="1" height="79" fill="#6c6c70" />
<rect x="896" y="124" width="5" height="68" fill="#5a0f06" />
<rect x="897" y="125" width="3" height="66" fill="#e35b47" />
<rect x="904" y="119" width="1" height="87" fill="#6c6c70" />
<rect x="902" y="122" width="5" height="70" fill="#134f26" />
<rect x="903" y="123" width="3" height="68" fill="#4fb350" />
<rect x="910" y="117" width="1" height="44" fill="#6c6c70" />
<rect x="908" y="122" width="5" height="29" fill="#5a0f06" />
<rect x="909" y="123" width="3" height="27" fill="#e35b47" />
<rect x="917" y="136" width="1" height="53" fill="#6c6c70" />
<rect x="915" y="151" width="5" height="20" fill="#5a0f06" />
<rect x="916" y="152" width="3" height="18" fill="#e35b47" />
<rect x="923" y="144" width="1" height="36" fill="#6c6c70" />
<rect x="921" y="168" width="5" height="3" fill="#134f26" />
<rect x="922" y="169" width="3" height="1" fill="#4fb350" />
<rect x="929" y="124" width="1" height="46" fill="#6c6c70" />
<rect x="927" y="129" width="5" height="40" fill="#134f26" />
<rect x="928" y="130" width="3" height="38" fill="#4fb350" />
<rect x="936" y="83" width="1" height="55" fill="#6c6c70" />
<rect x="934" y="97" width="5" height="33" fill="#134f26" />
<rect x="935" y="98" width="3" height="31" fill="#4fb350" />
<rect x="942" y="77" width="1" height="27" fill="#6c6c70" />
<rect x="940" y="96" width="5" height="2" fill="#134f26" />
<rect x="948" y="75" width="1" height="39" fill="#6c6c70" />
<rect x="946" y="96" width="5" height="7" fill="#5a0f06" />
<rect x="947" y="97" width="3" height="5" fill="#e35b47" />
<rect x="955" y="77" width="1" height="32" fill="#6c6c70" />
<rect x="953" y="86" width="5" height="17" fill="#134f26" />
<rect x="954" y="87" width="3" height="15" fill="#4fb350" />
<rect x="961" y="85" width="1" height="23" fill="#6c6c70" />
<rect x="959" y="86" width="5" height="13" fill="#5a0f06" />
<rect x="960" y="87" width="3" height="11" fill="#e35b47" />
<rect x="967" y="92" width="1" height="10" fill="#6c6c70" />
<rect x="965" y="98" width="5" height="4" fill="#5a0f06" />
<rect x="966" y="99" width="3" height="2" fill="#e35b47" />
<rect x="974" y="79" width="1" height="23" fill="#6c6c70" />
<rect x="972" y="81" width="5" height="21" fill="#134f26" />
<rect x="973" y="82" width="3" height="19" fill="#4fb350" />
<rect x="980" y="80" width="1" height="39" fill="#6c6c70" />
<rect x="978" y="81" width="5" height="20" fill="#5a0f06" />
<rect x="979" y="82" width="3" height="18" fill="#e35b47" />
<rect x="986" y="100" width="1" height="61" fill="#6c6c70" />
<rect x="984" y="100" width="5" height="50" fill="#5a0f06" />
<rect x="985" y="101" width="3" height="48" fill="#e35b47" />
<rect x="993" y="133" width="1" height="29" fill="#6c6c70" />
<rect x="991" y="144" width="5" height="6" fill="#134f26" />
<rect x="992" y="145" width="3" height="4" fill="#4fb350" />
<rect x="999" y="104" width="1" height="50" fill="#6c6c70" />
<rect x="997" y="114" width="5" height="30" fill="#134f26" />
<rect x="998" y="115" width="3" height="28" fill="#4fb350" />
<rect x="1005" y="111" width="1" height="33" fill="#6c6c70" />
<rect x="1003" y="114" width="5" height="9" fill="#5a0f06" />
<rect x="1004" y="115" width="3" height="7" fill="#e35b47" />
<rect x="1012" y="100" width="1" height="26" fill="#6c6c70" />
<rect x="1010" y="109" width="5" height="14" fill="#134f26" />
<rect x="1011" y="110" width="3" height="12" fill="#4fb350" />
<rect x="1018" y="92" width="1" height="18" fill="#6c6c70" />
<rect x="1016" y="103" width="5" height="6" fill="#134f26" />
<rect x="1017" y="104" width="3" height="4" fill="#4fb350" />
<rect x="1024" y="62" width="1" height="45" fill="#6c6c70" />
<rect x="1022" y="76" width="5" height="27" fill="#134f26" />
<rect x="1023" y="77" width="3" height="25" fill="#4fb350" />
<rect x="1031" y="75" width="1" height="42" fill="#6c6c70" />
<rect x="1029" y="76" width="5" height="31" fill="#5a0f06" />
<rect x="1030" y="77" width="3" height="29" fill="#e35b47" />
<rect x="1037" y="82" width="1" height="44" fill="#6c6c70" />
<rect x="1035" y="88" width="5" height="19" fill="#134f26" />
<rect x="1036" y="89" width="3" height="17" fill="#4fb350" />
<rect x="1043" y="80" width="1" height="21" fill="#6c6c70" />
<rect x="1041" y="88" width="5" height="9" fill="#5a0f06" />
<rect x="1042" y="89" width="3" height="7" fill="#e35b47" />
<rect x="1050" y="81" width="1" height="74" fill="#6c6c70" />
<rect x="1048" y="96" width="5" height="35" fill="#5a0f06" />
<rect x="1049" y="97" width="3" height="33" fill="#e35b47" />
<rect x="1056" y="121" width="1" height="87" fill="#6c6c70" />
<rect x="1054" y="130" width="5" height="40" fill="#5a0f06" />
<rect x="1055" y="131" width="3" height="38" fill="#e35b47" />
<rect x="1062" y="146" width="1" height="44" fill="#6c6c70" />
<rect x="1060" y="148" width="5" height="22" fill="#134f26" />
<rect x="1061" y="149" width="3" height="20" fill="#4fb350" />
<rect x="1069" y="133" width="1" height="55" fill="#6c6c70" />
<rect x="1067" y="148" width="5" height="28" fill="#5a0f06" />
<rect x="1068" y="149" width="3" height="26" fill="#e35b47" />
<rect x="1075" y="163" width="1" height="33" fill="#6c6c70" />
<rect x="1073" y="170" width="5" height="6" fill="#134f26" />
<rect x="1074" y="171" width="3" height="4" fill="#4fb350" />
<rect x="1081" y="162" width="1" height="57" fill="#6c6c70" />
<rect x="1079" y="170" width="5" height="31" fill="#5a0f06" />
<rect x="1080" y="171" width="3" height="29" fill="#e35b47" />
<rect x="1088" y="166" width="1" height="40" fill="#6c6c70" />
<rect x="1086" y="174" width="5" height="27" fill="#134f26" />
<rect x="1087" y="175" width="3" height="25" fill="#4fb350" />
<rect x="1094" y="150" width="1" height="70" fill="#6c6c70" />
<rect x="1092" y="170" width="5" height="5" fill="#134f26" />
<rect x="1093" y="171" width="3" height="3" fill="#4fb350" />
<rect x="1100" y="151" width="1" height="28" fill="#6c6c70" />
<rect x="1098" y="156" width="5" height="15" fill="#134f26" />
<rect x="1099" y="157" width="3" height="13" fill="#4fb350" />
<rect x="1107" y="147" width="1" height="18" fill="#6c6c70" />
<rect x="1105" y="156" width="5" height="1" fill="#5a0f06" />
<rect x="1113" y="130" width="1" height="32" fill="#6c6c70" />
<rect x="1111" y="134" width="5" height="23" fill="#134f26" />
<rect x="1112" y="135" width="3" height="21" fill="#4fb350" />
<rect x="1119" y="130" width="1" height="17" fill="#6c6c70" />
<rect x="1117" y="134" width="5" height="6" fill="#5a0f06" />
<rect x="1118" y="135" width="3" height="4" fill="#e35b47" />
<rect x="1126" y="131" width="1" height="41" fill="#6c6c70" />
<rect x="1124" y="139" width="5" height="26" fill="#5a0f06" />
<rect x="1125" y="140" width="3" height="24" fill="#e35b47" />
<rect x="1132" y="152" width="1" height="30" fill="#6c6c70" />
<rect x="1130" y="162" width="5" height="3" fill="#134f26" />
<rect x="1131" y="163" width="3" height="1" fill="#4fb350" />
<rect x="1138" y="158" width="1" height="18" fill="#6c6c70" />
<rect x="1136" y="162" width="5" height="9" fill="#5a0f06" />
<rect x="1137" y="163" width="3" height="7" fill="#e35b47" />
<rect x="1145" y="169" width="1" height="18" fill="#6c6c70" />
<rect x="1143" y="170" width="5" height="5" fill="#5a0f06" />
<rect x="1144" y="171" width="3" height="3" fill="#e35b47" />
<rect x="1151" y="163" width="1" height="19" fill="#6c6c70" />
<rect x="1149" y="174" width="5" height="5" fill="#5a0f06" />
<rect x="1150" y="175" width="3" height="3" fill="#e35b47" />
<rect x="1157" y="165" width="1" height="29" fill="#6c6c70" />
<rect x="1155" y="169" width="5" height="10" fill="#134f26" />
<rect x="1156" y="170" width="3" height="8" fill="#4fb350" />
<rect x="1164" y="159" width="1" height="66" fill="#6c6c70" />
<rect x="1162" y="169" width="5" height="40" fill="#5a0f06" />
<rect x="1163" y="170" width="3" height="38" fill="#e35b47" />
<rect x="1170" y="206" width="1" height="51" fill="#6c6c70" />
<rect x="1168" y="209" width="5" height="27" fill="#5a0f06" />
<rect x="1169" y="210" width="3" height="25" fill="#e35b47" />
<rect x="1176" y="220" width="1" height="33" fill="#6c6c70" />
<rect x="1174" y="227" width="5" height="9" fill="#134f26" />
<rect x="1175" y="228" width="3" height="7" fill="#4fb350" />
<rect x="1183" y="176" width="1" height="54" fill="#6c6c70" />
<rect x="1181" y="182" width="5" height="45" fill="#134f26" />
<rect x="1182" y="183" width="3" height="43" fill="#4fb350" />
<rect x="1189" y="161" width="1" height="24" fill="#6c6c70" />
<rect x="1187" y="169" width="5" height="13" fill="#134f26" />
<rect x="1188" y="170" width="3" height="11" fill="#4fb350" />
<rect x="1195" y="160" width="1" height="22" fill="#6c6c70" />
<rect x="1193" y="168" width="5" height="2" fill="#134f26" />
<rect x="1202" y="149" width="1" height="34" fill="#6c6c70" />
<rect x="1200" y="168" width="5" height="11" fill="#5a0f06" />
<rect x="1201" y="169" width="3" height="9" fill="#e35b47" />
<rect x="1208" y="163" width="1" height="26" fill="#6c6c70" />
<rect x="1206" y="178" width="5" height="11" fill="#5a0f06" />
<rect x="1207" y="179" width="3" height="9" fill="#e35b47" />
<rect x="1214" y="179" width="1" height="26" fill="#6c6c70" />
<rect x="1212" y="188" width="5" height="14" fill="#5a0f06" />
<rect x="1213" y="189" width="3" height="12" fill="#e35b47" />
<rect x="1221" y="175" width="1" height="33" fill="#6c6c70" />
<rect x="1219" y="179" width="5" height="23" fill="#134f26" />
<rect x="1220" y="180" width="3" height="21" fill="#4fb350" />
<rect x="1227" y="174" width="1" height="39" fill="#6c6c70" />
<rect x="1225" y="179" width="5" height="28" fill="#5a0f06" />
<rect x="1226" y="180" width="3" height="26" fill="#e35b47" />
<rect x="1233" y="197" width="1" height="13" fill="#6c6c70" />
<rect x="1231" y="206" width="5" height="1" fill="#134f26" />
<rect x="1240" y="193" width="1" height="15" fill="#6c6c70" />
<rect x="1238" y="199" width="5" height="8" fill="#134f26" />
<rect x="1239" y="200" width="3" height="6" fill="#4fb350" />
<rect x="1246" y="174" width="1" height="33" fill="#6c6c70" />
<rect x="1244" y="180" width="5" height="19" fill="#134f26" />
<rect x="1245" y="181" width="3" height="17" fill="#4fb350" />
<rect x="1252" y="178" width="1" height="24" fill="#6c6c70" />
<rect x="1250" y="180" width="5" height="18" fill="#5a0f06" />
<rect x="1251" y="181" width="3" height="16" fill="#e35b47" />
<rect x="1258" y="138" width="1" height="62" fill="#6c6c70" />
<rect x="1256" y="141" width="5" height="57" fill="#134f26" />
<rect x="1257" y="142" width="3" height="55" fill="#4fb350" />
<rect x="1265" y="135" width="1" height="25" fill="#6c6c70" />
<rect x="1263" y="141" width="5" height="12" fill="#5a0f06" />
<rect x="1264" y="142" width="3" height="10" fill="#e35b47" />
<rect x="1271" y="126" width="1" height="28" fill="#6c6c70" />
<rect x="1269" y="131" width="5" height="22" fill="#134f26" />
<rect x="1270" y="132" width="3" height="20" fill="#4fb350" />
<rect x="1277" y="127" width="1" height="10" fill="#6c6c70" />
<rect x="1275" y="131" width="5" height="3" fill="#5a0f06" />
<rect x="1276" y="132" width="3" height="1" fill="#e35b47" />
<rect x="1284" y="123" width="1" height="22" fill="#6c6c70" />
<rect x="1282" y="133" width="5" height="8" fill="#5a0f06" />
<rect x="1283" y="134" width="3" height="6" fill="#e35b47" />
<rect x="1290" y="78" width="1" height="65" fill="#6c6c70" />
<rect x="1288" y="79" width="5" height="62" fill="#134f26" />
<rect x="1289" y="80" width="3" height="60" fill="#4fb350" />
<rect x="1296" y="72" width="1" height="34" fill="#6c6c70" />
<rect x="1294" y="79" width="5" height="16" fill="#5a0f06" />
<rect x="1295" y="80" width="3" height="14" fill="#e35b47" />
<rect x="1303" y="88" width="1" height="22" fill="#6c6c70" />
<rect x="1301" y="94" width="5" height="13" fill="#5a0f06" />
<rect x="1302" y="95" width="3" height="11" fill="#e35b47" />
<rect x="1309" y="95" width="1" height="45" fill="#6c6c70" />
<rect x="1307" y="106" width="5" height="15" fill="#5a0f06" />
<rect x="1308" y="107" width="3" height="13" fill="#e35b47" />
<rect x="1315" y="105" width="1" height="32" fill="#6c6c70" />
<rect x="1313" y="113" width="5" height="8" fill="#134f26" />
<rect x="1314" y="114" width="3" height="6" fill="#4fb350" />
<rect x="1322" y="101" width="1" height="13" fill="#6c6c70" />
<rect x="1320" y="104" width="5" height="9" fill="#134f26" />
<rect x="1321" y="105" width="3" height="7" fill="#4fb350" />
<rect x="1328" y="101" width="1" height="17" fill="#6c6c70" />
<rect x="1326" y="104" width="5" height="11" fill="#5a0f06" />
<rect x="1327" y="105" width="3" height="9" fill="#e35b47" />
<rect x="1334" y="88" width="1" height="29" fill="#6c6c70" />
<rect x="1332" y="103" width="5" height="12" fill="#134f26" />
<rect x="1333" y="104" width="3" height="10" fill="#4fb350" />
<rect x="1341" y="101" width="1" height="27" fill="#6c6c70" />
<rect x="1339" y="103" width="5" height="12" fill="#5a0f06" />
<rect x="1340" y="104" width="3" height="10" fill="#e35b47" />
<rect x="1347" y="109" width="1" height="21" fill="#6c6c70" />
<rect x="1345" y="115" width="5" height="10" fill="#5a0f06" />
<rect x="1346" y="116" width="3" height="8" fill="#e35b47" />
<rect x="1353" y="102" width="1" height="28" fill="#6c6c70" />
<rect x="1351" y="116" width="5" height="9" fill="#134f26" />
<rect x="1352" y="117" width="3" height="7" fill="#4fb350" />
<rect x="1360" y="107" width="1" height="29" fill="#6c6c70" />
<rect x="1358" y="116" width="5" height="10" fill="#5a0f06" />
<rect x="1359" y="117" width="3" height="8" fill="#e35b47" />
<rect x="1366" y="121" width="1" height="5" fill="#6c6c70" />
<rect x="1364" y="123" width="5" height="3" fill="#134f26" />
<rect x="1365" y="124" width="3" height="1" fill="#4fb350" />
<rect x="1372" y="114" width="1" height="15" fill="#6c6c70" />
<rect x="1370" y="124" width="5" height="1" fill="#5a0f06" />
<rect x="1379" y="92" width="1" height="32" fill="#6c6c70" />
<rect x="1377" y="110" width="5" height="14" fill="#134f26" />
<rect x="1378" y="111" width="3" height="12" fill="#4fb350" />
<rect x="1385" y="83" width="1" height="30" fill="#6c6c70" />
<rect x="1383" y="89" width="5" height="22" fill="#134f26" />
<rect x="1384" y="90" width="3" height="20" fill="#4fb350" />
<rect x="1391" y="75" width="1" height="16" fill="#6c6c70" />
<rect x="1389" y="83" width="5" height="6" fill="#134f26" />
<rect x="1390" y="84" width="3" height="4" fill="#4fb350" />
<rect x="1398" y="77" width="1" height="9" fill="#6c6c70" />
<rect x="1396" y="82" width="5" height="1" fill="#134f26" />
</g>
<line x1="3" y1="82.5" x2="1430" y2="82.5" stroke="#4caf50" stroke-width="1" stroke-dasharray="1 2"/>
<polyline points="-0.5,704.0 5.5,703.7 12.5,704.5 18.5,703.9 24.5,703.1 31.5,703.8 37.5,704.7 43.5,705.1 50.5,706.4 56.5,705.8 62.5,706.0 69.5,703.5 75.5,703.5 81.5,704.4 88.5,705.6 94.5,705.6 100.5,704.2 107.5,701.7 113.5,700.0 119.5,700.5 126.5,701.6 132.5,701.9 138.5,702.2 145.5,701.0 151.5,699.7 157.5,700.5 164.5,700.6 170.5,702.2 176.5,703.1 183.5,703.7 189.5,703.1 195.5,703.8 202.5,704.7 208.5,704.2 214.5,704.4 221.5,704.7 227.5,702.4 233.5,699.5 240.5,700.2 246.5,700.5 252.5,700.2 259.5,701.1 265.5,702.4 271.5,698.9 278.5,698.9 284.5,696.8 290.5,696.1 297.5,696.3 303.5,697.0 309.5,697.4 316.5,696.3 322.5,696.1 328.5,695.4 335.5,696.2 341.5,696.9 347.5,697.9 354.5,697.9 360.5,698.4 366.5,697.6 372.5,697.4 379.5,697.4 385.5,696.9 391.5,697.4 398.5,698.0 404.5,697.2 410.5,696.8 417.5,692.8 423.5,692.4 429.5,692.2 436.5,693.4 442.5,694.4 448.5,691.5 455.5,690.1 461.5,688.5 467.5,687.2 474.5,684.6 480.5,686.0 486.5,686.7 493.5,687.1 499.5,687.6 505.5,688.6 512.5,688.4 518.5,688.5 524.5,690.2 531.5,691.9 537.5,691.4 543.5,691.7 550.5,692.6 556.5,693.8 562.5,692.9 569.5,694.0 575.5,694.6 581.5,694.6 588.5,695.2 594.5,695.3 600.5,695.5 607.5,696.2 613.5,697.6 619.5,698.3 626.5,698.4 632.5,699.3 638.5,698.9 645.5,699.0 651.5,696.8 657.5,696.9 664.5,697.6 670.5,696.0 676.5,695.3 683.5,693.9 689.5,694.1 695.5,695.0 702.5,695.1 708.5,695.7 714.5,696.7 721.5,695.9 727.5,695.7 733.5,696.4 740.5,697.1 746.5,697.7 752.5,698.9 759.5,695.4 765.5,693.5 771.5,687.5 778.5,686.5 784.5,686.3 790.5,687.5 797.5,687.7 803.5,684.0 809.5,678.2 815.5,676.9 822.5,677.3 828.5,676.7 834.5,678.4 841.5,679.1 847.5,677.1 853.5,676.2 860.5,676.8 866.5,675.4 872.5,673.3 879.5,672.2 885.5,671.8 891.5,672.5 898.5,670.9 904.5,669.1 910.5,669.3 917.5,669.1 923.5,669.6 929.5,669.7 936.5,669.3 942.5,670.2 948.5,670.5 955.5,671.1 961.5,672.1 967.5,673.7 974.5,674.6 980.5,674.6 986.5,673.6 993.5,674.2 999.5,673.7 1005.5,674.1 1012.5,674.8 1018.5,675.9 1024.5,675.6 1031.5,675.3 1037.5,675.1 1043.5,676.0 1050.5,674.1 1056.5,671.9 1062.5,671.9 1069.5,671.4 1075.5,671.9 1081.5,671.3 1088.5,671.5 1094.5,670.4 1100.5,671.2 1107.5,672.4 1113.5,672.9 1119.5,674.1 1126.5,674.1 1132.5,674.6 1138.5,675.8 1145.5,676.9 1151.5,677.8 1157.5,678.2 1164.5,676.5 1170.5,675.8 1176.5,676.0 1183.5,675.2 1189.5,676.0 1195.5,676.8 1202.5,677.0 1208.5,677.6 1214.5,678.2 1221.5,678.3 1227.5,678.1 1233.5,679.4 1240.5,680.6 1246.5,680.5 1252.5,681.0 1258.5,679.2 1265.5,679.7 1271.5,680.0 1277.5,681.4 1284.5,682.0 1290.5,679.8 1296.5,679.8 1303.5,680.4 1309.5,679.7 1315.5,679.7 1322.5,681.0 1328.5,681.9 1334.5,682.0 1341.5,682.3 1347.5,682.9 1353.5,683.0 1360.5,683.0 1366.5,684.7 1372.5,685.6 1379.5,685.2 1385.5,685.0 1391.5,685.9 1398.5,687.2" fill="none" stroke="#b71c1c" stroke-width="1.05" stroke-linejoin="round" clip-path="url(#plot)"/>
<polyline points="-0.5,748.5 5.5,749.3 12.5,750.8 18.5,750.3 24.5,751.2 31.5,753.6 37.5,752.7 43.5,753.3 50.5,753.5 56.5,752.1 62.5,749.6 69.5,740.1 75.5,735.6 81.5,736.4 88.5,740.3 94.5,746.7 100.5,757.9 107.5,746.3 113.5,752.8 119.5,754.9 126.5,754.7 132.5,750.3 138.5,749.3 145.5,760.0 151.5,753.5 157.5,750.5 164.5,744.3 170.5,745.0 176.5,749.9 183.5,756.1 189.5,745.8 195.5,741.8 202.5,747.0 208.5,738.8 214.5,732.0 221.5,730.8 227.5,721.9 233.5,721.9 240.5,730.6 246.5,739.2 252.5,741.1 259.5,744.9 265.5,747.6 271.5,756.0 278.5,757.8 284.5,755.5 290.5,754.9 297.5,757.1 303.5,757.9 309.5,761.0 316.5,760.3 322.5,757.8 328.5,752.4 335.5,750.0 341.5,749.8 347.5,753.6 354.5,759.8 360.5,757.5 366.5,766.1 372.5,759.7 379.5,761.4 385.5,770.3 391.5,770.6 398.5,766.7 404.5,750.2 410.5,733.6 417.5,760.6 423.5,750.7 429.5,754.0 436.5,752.2 442.5,751.0 448.5,728.6 455.5,730.4 461.5,736.8 467.5,736.3 474.5,764.6 480.5,770.5 486.5,775.4 493.5,772.2 499.5,769.4 505.5,770.8 512.5,778.8 518.5,780.2 524.5,777.4 531.5,775.8 537.5,782.9 543.5,783.7 550.5,778.9 556.5,777.9 562.5,769.6 569.5,766.0 575.5,763.8 581.5,758.1 588.5,753.3 594.5,752.1 600.5,752.7 607.5,749.4 613.5,750.5 619.5,754.9 626.5,752.6 632.5,751.0 638.5,745.7 645.5,738.5 651.5,730.2 657.5,730.5 664.5,732.9 670.5,734.5 676.5,739.6 683.5,738.6 689.5,739.9 695.5,743.2 702.5,747.1 708.5,747.8 714.5,749.1 721.5,750.1 727.5,752.2 733.5,753.5 740.5,755.6 746.5,755.1 752.5,754.4 759.5,747.8 765.5,734.1 771.5,714.2 778.5,724.8 784.5,733.7 790.5,740.1 797.5,743.1 803.5,739.6 809.5,747.1 815.5,746.6 822.5,746.7 828.5,746.6 834.5,747.9 841.5,748.0 847.5,746.6 853.5,746.8 860.5,745.5 866.5,749.0 872.5,753.5 879.5,759.3 885.5,759.1 891.5,758.9 898.5,772.5 904.5,767.7 910.5,766.9 917.5,775.5 923.5,776.0 929.5,767.5 936.5,755.6 942.5,751.5 948.5,754.2 955.5,752.7 961.5,755.6 967.5,756.3 974.5,752.6 980.5,756.4 986.5,768.5 993.5,771.0 999.5,762.1 1005.5,763.0 1012.5,757.6 1018.5,754.3 1024.5,747.9 1031.5,755.6 1037.5,755.9 1043.5,753.6 1050.5,771.0 1056.5,793.2 1062.5,785.1 1069.5,782.9 1075.5,783.3 1081.5,785.4 1088.5,778.8 1094.5,776.2 1100.5,770.1 1107.5,767.6 1113.5,763.1 1119.5,762.2 1126.5,767.1 1132.5,769.4 1138.5,769.6 1145.5,771.7 1151.5,770.6 1157.5,770.9 1164.5,781.2 1170.5,798.3 1176.5,793.8 1183.5,772.2 1189.5,759.4 1195.5,758.3 1202.5,758.6 1208.5,764.4 1214.5,771.8 1221.5,767.4 1227.5,771.5 1233.5,773.3 1240.5,770.1 1246.5,762.4 1252.5,764.5 1258.5,744.8 1265.5,740.3 1271.5,737.5 1277.5,739.2 1284.5,743.8 1290.5,735.3 1296.5,736.4 1303.5,743.1 1309.5,750.0 1315.5,751.4 1322.5,749.6 1328.5,752.0 1334.5,750.9 1341.5,754.7 1347.5,757.1 1353.5,756.2 1360.5,759.2 1366.5,760.7 1372.5,761.3 1379.5,754.3 1385.5,745.4 1391.5,738.8 1398.5,740.8" fill="none" stroke="#2962ff" stroke-width="1.05" stroke-linejoin="round" clip-path="url(#plot)"/>
<g shape-rendering="crispEdges">
<rect x="1430" y="2" width="1" height="829" fill="#4a4a4a" />
<rect x="3" y="666" width="1499" height="1" fill="#e0e3eb" />
<rect x="3" y="708" width="1499" height="1" fill="#e0e3eb" />
<rect x="3" y="803" width="1499" height="1" fill="#4a4a4a" />
<rect x="3" y="831" width="1499" height="1" fill="#e0e3eb" />
</g>
<text x="1439.2" y="650.0" font-size="12" fill="#555555" text-anchor="start" font-weight="normal" textLength="52.3" lengthAdjust="spacingAndGlyphs" >24,000.00</text>
<text x="1439.2" y="602.0" font-size="12" fill="#555555" text-anchor="start" font-weight="normal" textLength="52.3" lengthAdjust="spacingAndGlyphs" >28,000.00</text>
<text x="1439.2" y="554.0" font-size="12" fill="#555555" text-anchor="start" font-weight="normal" textLength="52.3" lengthAdjust="spacingAndGlyphs" >32,000.00</text>
<text x="1439.2" y="506.0" font-size="12" fill="#555555" text-anchor="start" font-weight="normal" textLength="52.3" lengthAdjust="spacingAndGlyphs" >36,000.00</text>
<text x="1439.2" y="458.0" font-size="12" fill="#555555" text-anchor="start" font-weight="normal" textLength="52.3" lengthAdjust="spacingAndGlyphs" >40,000.00</text>
<text x="1439.2" y="410.0" font-size="12" fill="#555555" text-anchor="start" font-weight="normal" textLength="52.3" lengthAdjust="spacingAndGlyphs" >44,000.00</text>
<text x="1439.2" y="362.0" font-size="12" fill="#555555" text-anchor="start" font-weight="normal" textLength="52.3" lengthAdjust="spacingAndGlyphs" >48,000.00</text>
<text x="1439.2" y="315.0" font-size="12" fill="#555555" text-anchor="start" font-weight="normal" textLength="52.3" lengthAdjust="spacingAndGlyphs" >52,000.00</text>
<text x="1439.2" y="267.0" font-size="12" fill="#555555" text-anchor="start" font-weight="normal" textLength="52.3" lengthAdjust="spacingAndGlyphs" >56,000.00</text>
<text x="1439.2" y="219.0" font-size="12" fill="#555555" text-anchor="start" font-weight="normal" textLength="52.3" lengthAdjust="spacingAndGlyphs" >60,000.00</text>
<text x="1439.2" y="171.0" font-size="12" fill="#555555" text-anchor="start" font-weight="normal" textLength="52.3" lengthAdjust="spacingAndGlyphs" >64,000.00</text>
<text x="1439.2" y="123.0" font-size="12" fill="#555555" text-anchor="start" font-weight="normal" textLength="52.3" lengthAdjust="spacingAndGlyphs" >68,000.00</text>
<text x="1439.2" y="75.0" font-size="12" fill="#555555" text-anchor="start" font-weight="normal" textLength="52.3" lengthAdjust="spacingAndGlyphs" >72,000.00</text>
<clipPath id="c1"><rect x="1431" y="667" width="71" height="41"/></clipPath>
<text x="1438" y="673" font-size="12" fill="#555555" text-anchor="start" font-weight="normal" textLength="46.3" lengthAdjust="spacingAndGlyphs" clip-path="url(#c1)">4,000.00</text>
<text x="1438.3" y="730.6" font-size="12" fill="#555555" text-anchor="start" font-weight="normal" textLength="35.2" lengthAdjust="spacingAndGlyphs" >250.00</text>
<text x="1438.3" y="764.8" font-size="12" fill="#555555" text-anchor="start" font-weight="normal" textLength="22.5" lengthAdjust="spacingAndGlyphs" >0.00</text>
<text x="1438.8" y="801" font-size="12" fill="#555555" text-anchor="start" font-weight="normal" textLength="41.1" lengthAdjust="spacingAndGlyphs" >−250.00</text>
<path d="M1431 43 h64 a2 2 0 0 1 2 2 v13 a2 2 0 0 1 -2 2 h-64 z" fill="#000"/>
<text x="1439.2" y="55.7" font-size="12" fill="#fff" text-anchor="start" font-weight="bold" textLength="52.3" lengthAdjust="spacingAndGlyphs" >73,778.56</text>
<path d="M1431 100 h64 a2 2 0 0 1 2 2 v13 a2 2 0 0 1 -2 2 h-64 z" fill="#000"/>
<text x="1439.2" y="112.7" font-size="12" fill="#fff" text-anchor="start" font-weight="bold" textLength="52.3" lengthAdjust="spacingAndGlyphs" >69,000.00</text>
<path d="M1431 149 h64 a2 2 0 0 1 2 2 v13 a2 2 0 0 1 -2 2 h-64 z" fill="#000"/>
<text x="1439.2" y="161.7" font-size="12" fill="#fff" text-anchor="start" font-weight="bold" textLength="52.3" lengthAdjust="spacingAndGlyphs" >64,892.99</text>
<path d="M1431 303 h64 a2 2 0 0 1 2 2 v13 a2 2 0 0 1 -2 2 h-64 z" fill="#000"/>
<text x="1439.2" y="315.7" font-size="12" fill="#fff" text-anchor="start" font-weight="bold" textLength="52.3" lengthAdjust="spacingAndGlyphs" >52,060.86</text>
<path d="M1431 340 h64 a2 2 0 0 1 2 2 v13 a2 2 0 0 1 -2 2 h-64 z" fill="#000"/>
<text x="1439.2" y="352.7" font-size="12" fill="#fff" text-anchor="start" font-weight="bold" textLength="52.3" lengthAdjust="spacingAndGlyphs" >48,973.01</text>
<path d="M1431 412 h64 a2 2 0 0 1 2 2 v13 a2 2 0 0 1 -2 2 h-64 z" fill="#000"/>
<text x="1439.2" y="424.7" font-size="12" fill="#fff" text-anchor="start" font-weight="bold" textLength="52.3" lengthAdjust="spacingAndGlyphs" >42,976.00</text>
<rect x="1434.5" y="6.5" width="63" height="25" rx="4" ry="4" fill="#fff" stroke="#e0e3eb" stroke-width="1"/>
<text x="1438.5" y="23.2" font-size="12" fill="#131722" text-anchor="start" font-weight="normal" textLength="27" lengthAdjust="spacingAndGlyphs" >USDT</text>
<path d="M1487.8 18.5 l2.8 2.6 l2.8 -2.6" fill="none" stroke="#131722" stroke-width="1.2"/>
<text x="8.7" y="821.3" font-size="12" fill="#555555" text-anchor="start" font-weight="normal" textLength="19.6" lengthAdjust="spacingAndGlyphs" >Nov</text>
<text x="100.5" y="821.3" font-size="12" fill="#555555" text-anchor="middle" font-weight="normal" >14</text>
<text x="198.7" y="821.3" font-size="12" fill="#555555" text-anchor="start" font-weight="normal" textLength="19.6" lengthAdjust="spacingAndGlyphs" >Dec</text>
<text x="316.5" y="821.3" font-size="12" fill="#555555" text-anchor="middle" font-weight="normal" >18</text>
<text x="404.5" y="821.3" font-size="12" fill="#555555" text-anchor="middle" font-weight="normal" >2024</text>
<text x="493.5" y="821.3" font-size="12" fill="#555555" text-anchor="middle" font-weight="normal" >15</text>
<text x="591.0" y="821.3" font-size="12" fill="#555555" text-anchor="start" font-weight="normal" textLength="19.0" lengthAdjust="spacingAndGlyphs" >Feb</text>
<text x="683.5" y="821.3" font-size="12" fill="#555555" text-anchor="middle" font-weight="normal" >14</text>
<text x="775.0" y="821.3" font-size="12" fill="#555555" text-anchor="start" font-weight="normal" textLength="19.0" lengthAdjust="spacingAndGlyphs" >Mar</text>
<text x="891.5" y="821.3" font-size="12" fill="#555555" text-anchor="middle" font-weight="normal" >18</text>
<text x="971.9" y="821.3" font-size="12" fill="#555555" text-anchor="start" font-weight="normal" textLength="17.2" lengthAdjust="spacingAndGlyphs" >Apr</text>
<text x="1069.5" y="821.3" font-size="12" fill="#555555" text-anchor="middle" font-weight="normal" >15</text>
<text x="1160.05" y="821.3" font-size="12" fill="#555555" text-anchor="start" font-weight="normal" textLength="20.9" lengthAdjust="spacingAndGlyphs" >May</text>
<text x="1252.5" y="821.3" font-size="12" fill="#555555" text-anchor="middle" font-weight="normal" >14</text>
<text x="1357.6" y="821.3" font-size="12" fill="#555555" text-anchor="start" font-weight="normal" textLength="17.8" lengthAdjust="spacingAndGlyphs" >Jun</text>
<polygon points="1473.3,817.4 1469.8,823.5 1462.8,823.5 1459.3,817.4 1462.8,811.3 1469.8,811.3" fill="none" stroke="#131722" stroke-width="1.1"/>
<circle cx="1466.3" cy="817.4" r="2.2" fill="none" stroke="#131722" stroke-width="1.1"/>
<rect x="8" y="8" width="694" height="22" fill="#fff" opacity="0.55"/>
<rect x="8" y="32" width="182" height="28" fill="#fff" opacity="0.55"/>
<rect x="8" y="66" width="597" height="15" fill="#fff" opacity="0.55"/>
<rect x="8" y="675" width="135" height="18" fill="#fff" opacity="0.55"/>
<rect x="8" y="717" width="157" height="18" fill="#fff" opacity="0.55"/>
<circle cx="24.2" cy="14.6" r="5.9" fill="#0f9a93"/>
<path d="M21.3 12.2 h5.8 l1.6 2.2 l-4.5 4.6 l-4.5 -4.6 z" fill="#d5f1ee"/>
<path d="M22.2 13.2 h4 v1 h-1.5 v2.6 h-1 v-2.6 h-1.5 z" fill="#0f9a93"/>
<circle cx="18" cy="21" r="6.6" fill="#fff"/>
<circle cx="18" cy="21" r="6" fill="#f7931a"/>
<text x="18" y="24" font-size="8.5" fill="#fff" text-anchor="middle" font-weight="bold">B</text>
<rect x="16.6" y="17" width="0.8" height="8" fill="#fff"/><rect x="18.4" y="17" width="0.8" height="8" fill="#fff"/>
<text x="34.5" y="24" font-size="15.4" fill="#4a4a4a" text-anchor="start" font-weight="normal" textLength="235" lengthAdjust="spacingAndGlyphs" stroke="#4a4a4a" stroke-width="0.25">Bitcoin / TetherUS · 1D · BINANCE</text>
<circle cx="293.5" cy="18" r="9" fill="#089981" opacity="0.18"/>
<circle cx="293.5" cy="18" r="4" fill="#089981"/>
<text x="318.5" y="23" font-size="12.7" textLength="66.5" lengthAdjust="spacingAndGlyphs"><tspan fill="#555555">O</tspan><tspan fill="#26623f">71,108.00</tspan></text>
<text x="391.5" y="23" font-size="12.7" textLength="67.0" lengthAdjust="spacingAndGlyphs"><tspan fill="#555555">H</tspan><tspan fill="#26623f">71,535.95</tspan></text>
<text x="465" y="23" font-size="12.7" textLength="64" lengthAdjust="spacingAndGlyphs"><tspan fill="#555555">L</tspan><tspan fill="#26623f">70,800.00</tspan></text>
<text x="535.5" y="23" font-size="12.7" textLength="65.0" lengthAdjust="spacingAndGlyphs"><tspan fill="#555555">C</tspan><tspan fill="#26623f">71,189.59</tspan></text>
<text x="608" y="23" font-size="12.7" fill="#26623f" text-anchor="start" font-weight="normal" textLength="37.5" lengthAdjust="spacingAndGlyphs" >+81.59</text>
<text x="651" y="23" font-size="12.7" fill="#26623f" text-anchor="start" font-weight="normal" textLength="48" lengthAdjust="spacingAndGlyphs" >(+0.11%)</text>
<rect x="11.5" y="34.5" width="68" height="23" rx="3.5" ry="3.5" fill="#fff" stroke="#f23645" stroke-width="1"/>
<text x="19" y="51" font-size="13" fill="#f23645" text-anchor="start" font-weight="normal" textLength="52.5" lengthAdjust="spacingAndGlyphs" >71189.59</text>
<text x="88" y="50" font-size="11" fill="#444" text-anchor="start" font-weight="normal" textLength="20" lengthAdjust="spacingAndGlyphs" >0.01</text>
<rect x="118" y="34.5" width="66.5" height="23" rx="3.5" ry="3.5" fill="#fff" stroke="#2962ff" stroke-width="1"/>
<text x="125.5" y="51" font-size="13" fill="#2962ff" text-anchor="start" font-weight="normal" textLength="52.5" lengthAdjust="spacingAndGlyphs" >71189.60</text>
<text x="12" y="78.7" font-size="12.4" fill="#555555" text-anchor="start" font-weight="normal" textLength="383" lengthAdjust="spacingAndGlyphs" >MA Ribbon SMA close 20 SMA close 50 SMA close 100 SMA close 200</text>
<text x="404" y="78.7" font-size="12.7" fill="#f23645" text-anchor="start" font-weight="normal" textLength="56" lengthAdjust="spacingAndGlyphs" >68,841.30</text>
<text x="466.5" y="78.7" font-size="12.7" fill="#2962ff" text-anchor="start" font-weight="normal" textLength="57" lengthAdjust="spacingAndGlyphs" >65,499.10</text>
<text x="531" y="78.2" font-size="10.5" fill="#333" text-anchor="start" font-weight="normal" textLength="7.2" lengthAdjust="spacingAndGlyphs" >Ø</text>
<text x="544.5" y="78.7" font-size="12.7" fill="#111" text-anchor="start" font-weight="normal" textLength="57" lengthAdjust="spacingAndGlyphs" >55,108.50</text>
<rect x="12.5" y="88.5" width="28" height="20" rx="3" ry="3" fill="#fff" fill-opacity="0.85" stroke="#dfe2ea" stroke-width="1"/>
<path d="M22.5 101 l4 -3.8 l4 3.8" fill="none" stroke="#222" stroke-width="1.4"/>
<text x="12.2" y="688.3" font-size="12.4" fill="#555555" text-anchor="start" font-weight="normal" textLength="66.8" lengthAdjust="spacingAndGlyphs" >ATR 14 RMA</text>
<text x="88" y="688.3" font-size="12.7" fill="#c62828" text-anchor="start" font-weight="normal" textLength="50" lengthAdjust="spacingAndGlyphs" >2,119.80</text>
<text x="12.2" y="730.2" font-size="12.4" fill="#555555" text-anchor="start" font-weight="normal" textLength="101.3" lengthAdjust="spacingAndGlyphs" >CCI 20 hlc3 SMA 5</text>
<text x="123" y="730.2" font-size="12.7" fill="#2962ff" text-anchor="start" font-weight="normal" textLength="37" lengthAdjust="spacingAndGlyphs" >154.07</text>
<path d="M15 774.2 H27 V788.85 H21.1 V779.7 H15 Z M38.4 774.2 H44.95 L39 788.85 H32.1 Z M35.05 777.05 a2.95 2.95 0 1 0 -5.9 0 a2.95 2.95 0 1 0 5.9 0 Z" fill="#fff" stroke="#fff" stroke-width="3.4" stroke-linejoin="round"/>
<path d="M15 774.2 H27 V788.85 H21.1 V779.7 H15 Z M38.4 774.2 H44.95 L39 788.85 H32.1 Z M35.05 777.05 a2.95 2.95 0 1 0 -5.9 0 a2.95 2.95 0 1 0 5.9 0 Z" fill="#131722"/>
<filter id="ws" x="-10%" y="-10%" width="130%" height="130%"><feDropShadow dx="1.6" dy="1.6" stdDeviation="0.8" flood-color="#000" flood-opacity="0.6"/></filter>
<g filter="url(#ws)" opacity="0.86" fill="#fff" fill-rule="evenodd">
<g transform="translate(1270.6,742.5) skewX(-12.9)">
<path d="M2.6 8.5h9.5v5.5h-9.5z M0.7 17h10v13h-10z M0 53 L8.8 53 L14 33.5 L7 33.5z M11 0.7 L18 0.7 L15.5 8.5 L8.5 8.5z M13.6 3.3h36.2v5.2h-36.2z M17 11h34v41.5h-34z M23.3 17.5v9.1h19v-9.1z M22.3 34.4v10.8h19.8v-10.8z M30 18.5 L33 18.5 L38 26 L35 26z M29 35 L32 35 L35 44.5 L32 44.5z M10 26.6h10v7.8h-10z"/>
</g>
<g transform="translate(1330.6,742.5) skewX(-12.9)">
<path d="M0.5 0.7h39.5v5.6h-39.5z M3 0.7h6.2v20.7h-6.2z M0 21.4h41v7.8h-41z M34.5 21.4h6.5v32h-6.5z M0 37h40v6h-40z M22 47.3h19v6.1h-19z"/>
</g>
<g transform="translate(1384.6,742.5) skewX(-12.9)">
<path d="M-4.5 0 L-2.5 0 L-2.5 55 L-4.5 55z M0.4 1.1h22.5v7.8h-22.5z M0.4 1.1h8.6v37h-8.6z M17.7 1.1h5.2v37h-5.2z M0.4 33.5h22.5v5h-22.5z M7.6 37.4 L15.4 37.4 L10.3 53 L2.5 53z M16.3 37.4 L23.2 37.4 L31.9 53 L24.1 53z M25 1h6.3v52h-6.3z M25.5 7.2h33v5.6h-33z M39 13.2 L46.1 13.2 L40.3 52.1 L33.3 52.1z M52 0.5h6.7v54h-6.7z M45 48.5h9v6h-9z"/>
</g>
<path d="M1462 742.5 L1469.1 743 L1456.1 756.4 L1449 756z M1464.5 754.5 L1471.4 754.9 L1453.8 774 L1446.5 773.5z M1441 776 L1464 776 L1463 782 L1440 782z M1440 788.5 L1492 788.5 L1490 795.2 L1438 795.2z M1486 781 L1493 781 L1491 790 L1484 790z M1472 743 L1490 743 L1489 749.5 L1471 749.5z M1495 743 L1502 744 L1491.4 758.7 L1484.5 757.5z M1468 763 L1497 763 L1496 769.5 L1467 769.5z M1474 752 L1479 749 L1496 765 L1490 768z M1464 772.5 L1495.5 772.5 L1494.5 778.5 L1463 778.5z M1478 778 L1485 778 L1482 790 L1475 790z"/>
</g>
<g font-style="italic" opacity="0.93">
<text x="1272.3" y="829.7" font-size="32" font-weight="bold" letter-spacing="10.7" fill="#6f8fd8" stroke="#6f8fd8" stroke-width="0.9">zzrt01.cn</text>
<text x="1270.6" y="828.0" font-size="32" font-weight="bold" letter-spacing="10.7" fill="#8ccdff" stroke="#8ccdff" stroke-width="0.9">zzrt01.cn</text>
</g>
</svg></body></html>
